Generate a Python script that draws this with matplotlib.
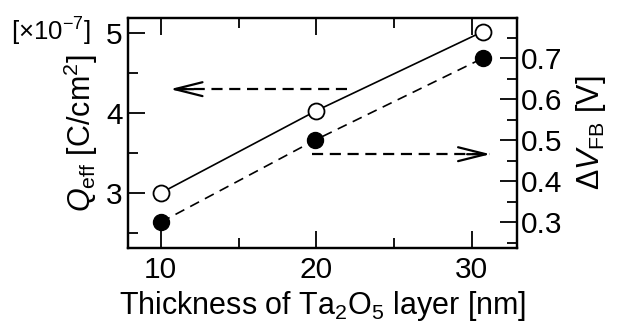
import matplotlib
matplotlib.use("Agg")
import matplotlib.pyplot as plt
from matplotlib.ticker import MultipleLocator

plt.rcParams['font.family'] = ['Liberation Sans', 'DejaVu Sans']
plt.rcParams['mathtext.fontset'] = 'custom'
plt.rcParams['mathtext.rm'] = 'Liberation Sans'
plt.rcParams['mathtext.it'] = 'Liberation Sans:italic'

# data
thickness = [10, 20, 30.7]
q_eff = [3.0, 4.03, 5.02]          # x 1e-7 C/cm2, open circles, left axis
thickness_vfb = [10, 19.9, 30.7]
delta_vfb = [0.30, 0.50, 0.70]     # V, filled circles, right axis

# arrows pointing to the axis each series belongs to
left_arrow_x = [22.0, 10.6]
left_arrow_y = 4.3
right_arrow_x = [19.7, 31.2]
right_arrow_y = 0.466

fig = plt.figure(figsize=(6.22, 3.29), dpi=100)
ax = fig.add_axes([0.206, 0.246, 0.625, 0.699])
ax2 = ax.twinx()

ax.plot(thickness, q_eff, '-', color='black', lw=1.2,
        marker='o', ms=11.5, mfc='white', mec='black', mew=1.3, zorder=3)
ax2.plot(thickness_vfb, delta_vfb, color='black', lw=1.2, ls=(0, (6, 4)),
         marker='o', ms=11.5, mfc='black', mec='black', zorder=3)

# dashed arrows with open heads
head = '->,head_length=1.0,head_width=0.25'
ax.plot(left_arrow_x, [left_arrow_y] * 2, color='black', lw=1.6, ls=(0, (5, 3)))
ax.annotate('', xy=(left_arrow_x[1], left_arrow_y),
            xytext=(left_arrow_x[1] + 1.5, left_arrow_y),
            arrowprops=dict(arrowstyle=head, lw=1.6, color='black',
                            mutation_scale=20, shrinkA=0, shrinkB=0))
ax2.plot(right_arrow_x, [right_arrow_y] * 2, color='black', lw=1.6, ls=(0, (5, 3)))
ax2.annotate('', xy=(right_arrow_x[1], right_arrow_y),
             xytext=(right_arrow_x[1] - 1.5, right_arrow_y),
             arrowprops=dict(arrowstyle=head, lw=1.6, color='black',
                             mutation_scale=20, shrinkA=0, shrinkB=0))

ax.set_xlim(7.9, 32.9)
ax.set_ylim(2.31, 5.19)
ax2.set_ylim(0.237, 0.798)

ax.xaxis.set_major_locator(MultipleLocator(10))
ax.xaxis.set_minor_locator(MultipleLocator(5))
ax.yaxis.set_major_locator(MultipleLocator(1))
ax.yaxis.set_minor_locator(MultipleLocator(0.5))
ax2.yaxis.set_major_locator(MultipleLocator(0.1))
ax2.yaxis.set_minor_locator(MultipleLocator(0.05))

ax.tick_params(axis='x', which='both', direction='in', top=True, labelsize=21.5, pad=6)
ax.tick_params(axis='y', which='both', direction='in', right=False, labelsize=21.5, pad=4)
ax.tick_params(which='major', length=12, width=1.3)
ax.tick_params(which='minor', length=7, width=1.3)
ax2.tick_params(axis='y', which='both', direction='in', labelsize=21.5, pad=3)
ax2.tick_params(which='major', length=12, width=1.3)
ax2.tick_params(which='minor', length=7, width=1.3)

for a in (ax, ax2):
    for s in a.spines.values():
        s.set_linewidth(1.6)

ax.set_xlabel('Thickness of Ta$_2$O$_5$ layer [nm]', fontsize=22, labelpad=3)
ax.set_ylabel(r'$Q_{\rm eff}$ [C/cm$^2$]', fontsize=22, labelpad=4)
ax2.set_ylabel(r'$\Delta V_{\rm FB}$ [V]', fontsize=22, labelpad=8)
fig.text(0.018, 0.878, r'[$\times$10$^{-7}$]', fontsize=18.5, va='baseline')

fig.savefig('out.png', dpi=100)
